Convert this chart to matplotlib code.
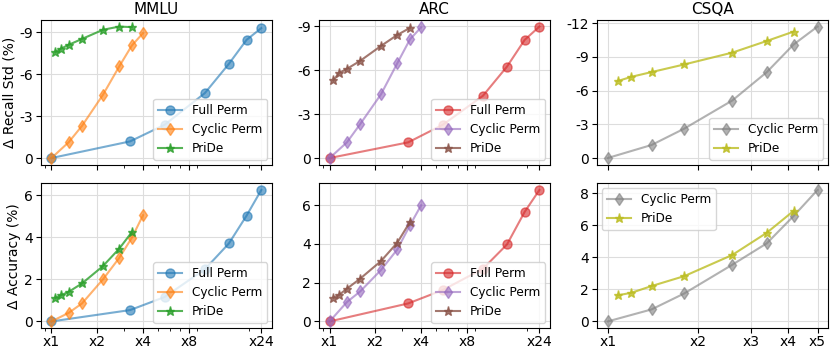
import numpy as np
import matplotlib
matplotlib.use("Agg")
import matplotlib.pyplot as plt

plt.rcParams["axes.unicode_minus"] = False

# Data -----------------------------------------------------------------

# x positions are cost multipliers (log axis)
full_x = [1, 3.29, 5.55, 10.2, 14.7, 19.2, 24]
cyc_x = [1, 1.30, 1.59, 2.18, 2.79, 3.38, 4]
pride_x = [1.06, 1.15, 1.30, 1.59, 2.18, 2.79, 3.38]

# MMLU
mmlu_full_std = [0, -1.19, -2.38, -4.64, -6.74, -8.45, -9.29]
mmlu_cyc_std = [0, -1.14, -2.31, -4.52, -6.55, -8.05, -8.93]
mmlu_pride_std = [-7.57, -7.81, -8.10, -8.52, -9.17, -9.40, -9.36]
mmlu_full_acc = [0, 0.54, 1.16, 2.48, 3.71, 5.03, 6.25]
mmlu_cyc_acc = [0, 0.41, 0.86, 2.00, 3.02, 3.98, 5.05]
mmlu_pride_acc = [1.11, 1.24, 1.41, 1.81, 2.63, 3.46, 4.25]

# ARC
arc_full_std = [0, -1.07, -2.27, -4.25, -6.25, -8.07, -8.98]
arc_cyc_std = [0, -1.07, -2.32, -4.36, -6.48, -8.11, -8.93]
arc_pride_std = [-5.30, -5.80, -6.09, -6.64, -7.66, -8.41, -8.89]
arc_full_acc = [0, 0.93, 1.62, 2.72, 3.98, 5.66, 6.79]
arc_cyc_acc = [0, 1.00, 1.55, 2.66, 3.72, 4.97, 6.00]
arc_pride_acc = [1.22, 1.36, 1.69, 2.21, 3.12, 4.07, 5.14]

# CSQA (5 options, no full permutation)
csqa_cyc_x = [1, 1.40, 1.80, 2.60, 3.39, 4.16, 5]
csqa_pride_x = [1.08, 1.20, 1.40, 1.80, 2.60, 3.39, 4.16]
csqa_cyc_std = [0, -1.16, -2.62, -5.12, -7.65, -10.1, -11.7]
csqa_pride_std = [-6.85, -7.23, -7.65, -8.33, -9.38, -10.42, -11.25]
csqa_cyc_acc = [0, 0.75, 1.75, 3.54, 4.88, 6.58, 8.21]
csqa_pride_acc = [1.63, 1.79, 2.21, 2.83, 4.15, 5.54, 6.90]

titles = ["MMLU", "ARC", "CSQA"]
xticks_4 = [1, 2, 4, 8, 24]
xticks_5 = [1, 2, 3, 4, 5]

# Plot -----------------------------------------------------------------

fig, axes = plt.subplots(2, 3, figsize=(8.3, 3.49), dpi=100)
fig.subplots_adjust(left=41/830, right=828/830, top=1-20/349,
                    bottom=1-328/349, wspace=0.205, hspace=0.13)

def line(ax, x, y, color, marker, label, ms, alpha):
    ax.plot(x, y, color=color, marker=marker, markersize=ms, label=label,
            alpha=alpha, lw=1.5)

LEG = dict(fontsize=8.7, handlelength=2.0, borderaxespad=0.4)

panels = [
    ("C0", "C1", "C2", mmlu_full_std, mmlu_cyc_std, mmlu_pride_std,
     mmlu_full_acc, mmlu_cyc_acc, mmlu_pride_acc),
    ("C3", "C4", "C5", arc_full_std, arc_cyc_std, arc_pride_std,
     arc_full_acc, arc_cyc_acc, arc_pride_acc),
]

for j, (cf, cc, cp, fs, cs, ps, fa, ca, pa) in enumerate(panels):
    top, bot = axes[0, j], axes[1, j]
    for ax, (f, c, p) in ((top, (fs, cs, ps)), (bot, (fa, ca, pa))):
        line(ax, full_x, f, cf, "o", "Full Perm", 6.5, 0.6)
        line(ax, cyc_x, c, cc, "d", "Cyclic Perm", 6.5, 0.6)
        line(ax, pride_x, p, cp, "*", "PriDe", 6.5, 0.8)
        ax.legend(loc="lower right", **LEG)

for ax, (c, p) in ((axes[0, 2], (csqa_cyc_std, csqa_pride_std)),
                   (axes[1, 2], (csqa_cyc_acc, csqa_pride_acc))):
    line(ax, csqa_cyc_x, c, "C7", "d", "Cyclic Perm", 6.5, 0.6)
    line(ax, csqa_pride_x, p, "C8", "*", "PriDe", 6.5, 0.8)

axes[0, 2].legend(loc="lower right", **LEG)
axes[1, 2].legend(loc="upper left", **LEG)

for j in range(3):
    ticks = xticks_5 if j == 2 else xticks_4
    for i in range(2):
        ax = axes[i, j]
        ax.set_xscale("log")
        ax.set_xticks(ticks)
        ax.set_xticklabels(["x%d" % t for t in ticks] if i == 1 else [])
        ax.grid(True, color="#dddddd", lw=0.8)
        ax.tick_params(axis="y", labelsize=10, pad=2.5)
        ax.tick_params(axis="x", which="both", labelsize=10, pad=1.5,
                       length=3.5)
        ax.tick_params(axis="x", which="minor", length=2)
    axes[0, j].set_title(titles[j], fontsize=11, pad=4)

for j in range(2):
    axes[0, j].set_yticks([0, -3, -6, -9])
    axes[0, j].invert_yaxis()
axes[0, 2].set_yticks([0, -3, -6, -9, -12])
axes[0, 2].invert_yaxis()

axes[0, 0].set_ylabel("Δ Recall Std (%)", fontsize=10, labelpad=2)
axes[1, 0].set_ylabel("Δ Accuracy (%)", fontsize=10, labelpad=2)

plt.savefig("out.png", dpi=100)
